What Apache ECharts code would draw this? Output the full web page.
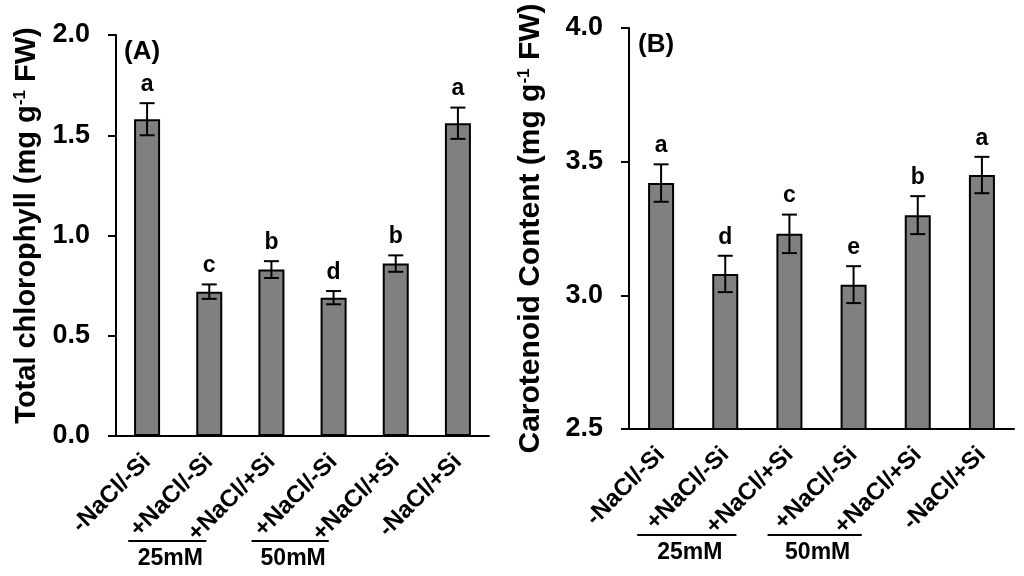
<!DOCTYPE html>
<html>
<head>
<meta charset="utf-8">
<script src="https://cdn.jsdelivr.net/npm/echarts@6/dist/echarts.min.js"></script>
<style>
html,body{margin:0;padding:0;background:#fff;}
#c{width:1024px;height:576px;}
</style>
</head>
<body>
<div id="c"></div>
<script>
const categories = ['-NaCl/-Si', '+NaCl/-Si', '+NaCl/+Si', '+NaCl/-Si', '+NaCl/+Si', '-NaCl/+Si'];
const chlValues = [1.58, 0.72, 0.83, 0.69, 0.86, 1.56];
const chlErrors = [0.08, 0.036, 0.042, 0.033, 0.041, 0.078];
const chlLetters = ['a', 'c', 'b', 'd', 'b', 'a'];
const carValues = [3.42, 3.08, 3.23, 3.04, 3.30, 3.45];
const carErrors = [0.07, 0.068, 0.072, 0.069, 0.071, 0.068];
const carLetters = ['a', 'd', 'c', 'e', 'b', 'a'];
const groupLabels = ['25mM', '50mM'];
const panelLabels = ['(A)', '(B)'];
const yTitles = ['Total chlorophyll (mg g{sup|-1} FW)', 'Carotenoid Content (mg g{sup|-1} FW)'];

const FONT = '"Liberation Sans", Arial, sans-serif';
const chart = echarts.init(document.getElementById('c'));

function errSeries(idx, values, errors, letters) {
  return {
    type: 'custom',
    xAxisIndex: idx, yAxisIndex: idx,
    z: 10,
    data: values.map((v, i) => [i, v, errors[i]]),
    renderItem: function (params, api) {
      const x = api.value(0), v = api.value(1), e = api.value(2);
      const top = api.coord([x, v + e]);
      const bot = api.coord([x, v - e]);
      const hw = 7.5;
      const st = { stroke: '#000', lineWidth: 2 };
      return {
        type: 'group',
        children: [
          { type: 'line', shape: { x1: top[0], y1: top[1], x2: bot[0], y2: bot[1] }, style: st },
          { type: 'line', shape: { x1: top[0] - hw, y1: top[1], x2: top[0] + hw, y2: top[1] }, style: st },
          { type: 'line', shape: { x1: bot[0] - hw, y1: bot[1], x2: bot[0] + hw, y2: bot[1] }, style: st },
          { type: 'text', style: { text: letters[params.dataIndex], x: top[0], y: top[1] - 7, align: 'center', verticalAlign: 'bottom', font: 'bold 23px ' + FONT, fill: '#000' } }
        ]
      };
    }
  };
}

function xAxis(idx) {
  return {
    type: 'category', gridIndex: idx, data: categories,
    axisLine: { lineStyle: { color: '#000', width: 2 } },
    axisTick: { length: 8, lineStyle: { color: '#000', width: 2 } },
    axisLabel: { interval: 0, rotate: 45, margin: 22, color: '#000', fontWeight: 'bold', fontSize: 24, fontFamily: FONT }
  };
}
function yAxis(idx, min, max, gap, fs, shiftPad) {
  return {
    type: 'value', gridIndex: idx, min: min, max: max, interval: 0.5,
    name: yTitles[idx], nameLocation: 'middle', nameGap: gap, nameMoveOverlap: false,
    nameTextStyle: { color: '#000', fontWeight: 'bold', fontSize: fs, fontFamily: FONT, padding: [0, 0, 0, shiftPad],
      rich: { sup: { fontSize: 17, fontWeight: 'bold', fontFamily: FONT, verticalAlign: 'top', padding: [0, 0, 13, 0] } } },
    axisLine: { show: true, lineStyle: { color: '#000', width: 2 } },
    axisTick: { show: true, length: 8, lineStyle: { color: '#000', width: 2 } },
    axisLabel: { margin: 26, color: '#000', fontWeight: 'bold', fontSize: 27, fontFamily: FONT,
      formatter: v => v.toFixed(1) },
    splitLine: { show: false }
  };
}
function barSeries(idx, values) {
  return {
    type: 'bar', xAxisIndex: idx, yAxisIndex: idx, data: values, barWidth: 26,
    itemStyle: { color: '#808080', borderColor: '#000', borderWidth: 2 }
  };
}

chart.setOption({
  animation: false,
  grid: [
    { left: 116, top: 35, width: 373, height: 401 },
    { left: 629, top: 28, width: 385, height: 401 }
  ],
  xAxis: [xAxis(0), xAxis(1)],
  yAxis: [yAxis(0, 0, 2, 74, 29, 20), yAxis(1, 2.5, 4, 83, 30, 0)],
  series: [
    barSeries(0, chlValues), errSeries(0, chlValues, chlErrors, chlLetters),
    barSeries(1, carValues), errSeries(1, carValues, carErrors, carLetters)
  ]
});

// Annotations positioned relative to the axes
const gfx = [];
const lineCfg = [
  { ax: 0, y: 541, segs: [[1, -81, 2, -65], [3, -82, 4, -67]] },
  { ax: 1, y: 535, segs: [[1, -88, 2, -53], [3, -86, 4, -56]] }
];
lineCfg.forEach(cfg => {
  const yTop = chart.convertToPixel({ yAxisIndex: cfg.ax }, cfg.ax === 0 ? 2 : 4);
  const xs0 = chart.convertToPixel({ xAxisIndex: cfg.ax }, 0);
  gfx.push({ type: 'text', left: xs0 - 23, top: yTop + 4, style: { text: panelLabels[cfg.ax], font: 'bold 26px ' + FONT, fill: '#000' } });
  cfg.segs.forEach((s, k) => {
    const x1 = chart.convertToPixel({ xAxisIndex: cfg.ax }, s[0]) + s[1];
    const x2 = chart.convertToPixel({ xAxisIndex: cfg.ax }, s[2]) + s[3];
    gfx.push({ type: 'line', shape: { x1: x1, y1: cfg.y, x2: x2, y2: cfg.y }, style: { stroke: '#000', lineWidth: 2 } });
    gfx.push({ type: 'text', x: (x1 + x2) / 2 + 3, y: cfg.y + 18, style: { text: groupLabels[k], align: 'center', verticalAlign: 'middle', font: 'bold 23px ' + FONT, fill: '#000' } });
  });
});
chart.setOption({ graphic: gfx });
</script>
</body>
</html>
